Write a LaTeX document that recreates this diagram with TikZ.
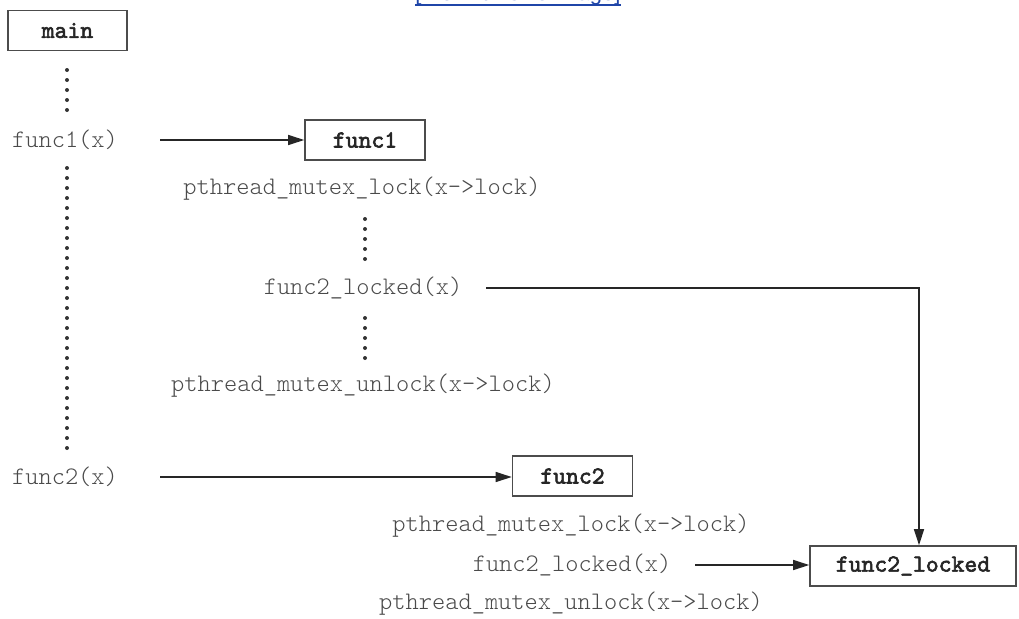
\documentclass[tikz,border=0pt]{standalone}
\usepackage{fontspec}
\newfontfamily\linkfont{Liberation Sans}
\newfontfamily\boxfont{lmmono10-regular.otf}[FakeBold=2.5]
\usetikzlibrary{arrows.meta}
\definecolor{txt}{HTML}{4A4A4A}
\definecolor{lnk}{HTML}{1F45A8}
\begin{document}
\begin{tikzpicture}[x=1pt,y=-1pt,
  fbox/.style={draw=black!70, line width=1.6pt, font=\boxfont\fontsize{24.5}{26}\selectfont, text=black!85, minimum height=40pt, inner sep=0pt},
  lbl/.style={font=\ttfamily\fontseries{l}\fontsize{25.2}{26}\selectfont, text=txt, inner sep=0pt},
  arr/.style={line width=1.5pt, draw=black!85, -{Triangle[length=16pt,width=10pt]}},
  dotline/.style={line width=4pt, line cap=round, dash pattern=on 0pt off 10pt, draw=black!80},
]
\useasboundingbox (0,0) rectangle (1019,618);
% partially visible link at the top
\node[font=\linkfont\fontsize{22}{24}\selectfont, text=lnk, anchor=base, inner sep=0pt] (link) at (518,1) {[View full size image]};
\draw[lnk, line width=1.2pt] (link.base west) ++(0,4) coordinate (u1) -- (link.base east |- u1);

% boxes
\node[fbox, minimum width=119pt] (main) at (67.5,30.5) {main};
\node[fbox, minimum width=120pt] (f1) at (365,140) {func1};
\node[fbox, minimum width=120pt] (f2) at (572.5,476) {func2};
\node[fbox, minimum width=206pt] (fl) at (913,566) {func2\_locked};

% labels
\node[lbl] (c1) at (65,140) {func1(x)};
\node[lbl] (c2) at (65,477) {func2(x)};
\node[lbl] (lk1) at (362,189) {pthread\_mutex\_lock(x->lock)};
\node[lbl] (cl1) at (363,288) {func2\_locked(x)};
\node[lbl] (ul1) at (363,386) {pthread\_mutex\_unlock(x->lock)};
\node[lbl] (lk2) at (571,526) {pthread\_mutex\_lock(x->lock)};
\node[lbl] (cl2) at (572,565) {func2\_locked(x)};
\node[lbl] (ul2) at (571,604) {pthread\_mutex\_unlock(x->lock)};

% dotted continuations
\coordinate (d1a) at (67,70);   \coordinate (d1b) at (67,110.5);
\coordinate (d2a) at (67,168);  \coordinate (d2b) at (67,448.5);
\coordinate (d3a) at (365,219); \coordinate (d3b) at (365,259.5);
\coordinate (d4a) at (365,318); \coordinate (d4b) at (365,358.5);
\draw[dotline] (d1a) -- (d1b);
\draw[dotline] (d2a) -- (d2b);
\draw[dotline] (d3a) -- (d3b);
\draw[dotline] (d4a) -- (d4b);

% calls
\draw[arr, shorten <=42pt] (c1.east) -- (f1.west);
\draw[arr, shorten <=42pt] (c2.east) -- (f2.west |- c2.east);
\draw[arr, shorten <=24pt] (cl1.east) -| ([xshift=6pt]fl.north);
\draw[arr, shorten <=24pt] (cl2.east) -- (fl.west |- cl2.east);
\end{tikzpicture}
\end{document}
